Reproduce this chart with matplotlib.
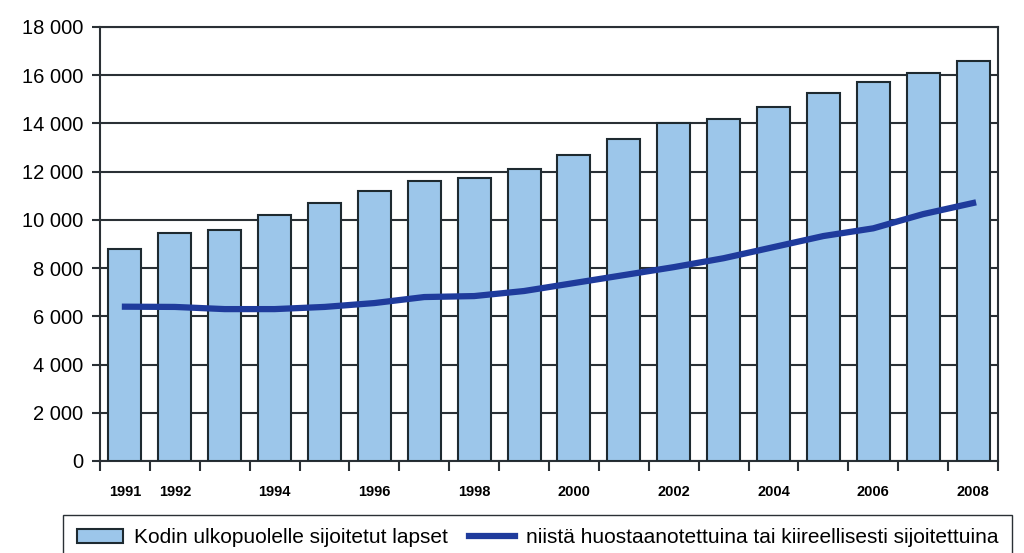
import matplotlib
matplotlib.use("Agg")
import matplotlib.pyplot as plt
import numpy as np
from matplotlib.ticker import FuncFormatter, FixedLocator

years = list(range(1991, 2009))
placed = [8800, 9450, 9600, 10200, 10700, 11200, 11600, 11750, 12100, 12700,
          13350, 14000, 14200, 14700, 15250, 15700, 16100, 16600]
custody = [6400, 6390, 6300, 6300, 6390, 6550, 6800, 6840, 7050, 7380,
           7710, 8040, 8410, 8870, 9330, 9650, 10240, 10700]
label_years = [1991, 1992, 1994, 1996, 1998, 2000, 2002, 2004, 2006, 2008]
bar_label = "Kodin ulkopuolelle sijoitetut lapset"
line_label = "niistä huostaanotettuina tai kiireellisesti sijoitettuina"

plt.rcParams['font.family'] = ['Liberation Sans', 'DejaVu Sans']

fig = plt.figure(figsize=(10.24, 5.53), dpi=100)
ax = fig.add_axes([100/1024, 1-461/553, 898/1024, 434/553])

x = np.arange(len(years))
bars = ax.bar(x, placed, width=0.66, color='#9cc6ea', edgecolor='#1e2a30', linewidth=1.5,
              zorder=3, label=bar_label)
line, = ax.plot(x, custody, color='#1f3b9c', linewidth=4.5, zorder=4, label=line_label)

ax.set_xlim(-0.5, len(years) - 0.5)
ax.set_ylim(0, 18000)
ax.set_yticks(np.arange(0, 18001, 2000))
ax.yaxis.set_major_formatter(FuncFormatter(lambda v, p: f"{int(v):,}".replace(",", " ")))
ax.grid(axis='y', color='#2a3035', linewidth=1.5, zorder=0)
ax.tick_params(axis='y', labelsize=14.5, length=6, width=1.5, color='#2a3035', pad=6)

ax.set_xticks([years.index(y) for y in label_years])
ax.set_xticklabels([str(y) for y in label_years], fontsize=10.5, fontweight='bold')
ax.tick_params(axis='x', which='major', length=0, pad=17)
ax.xaxis.set_minor_locator(FixedLocator(np.arange(-0.5, len(years), 1.0)))
ax.tick_params(axis='x', which='minor', length=7, width=1.5, color='#2a3035', direction='out')

for s in ax.spines.values():
    s.set_color('#2a3035')
    s.set_linewidth(1.5)

fig.legend(handles=[bars, line], labels=[bar_label, line_label],
           loc='lower left', bbox_to_anchor=(0.062, -0.014), ncol=2, fontsize=15,
           frameon=True, fancybox=False, edgecolor='#2a3035', framealpha=1,
           handlelength=2.2, handletextpad=0.55, columnspacing=1.0, borderpad=0.65,
           borderaxespad=0)

fig.savefig("out.png", dpi=100)
